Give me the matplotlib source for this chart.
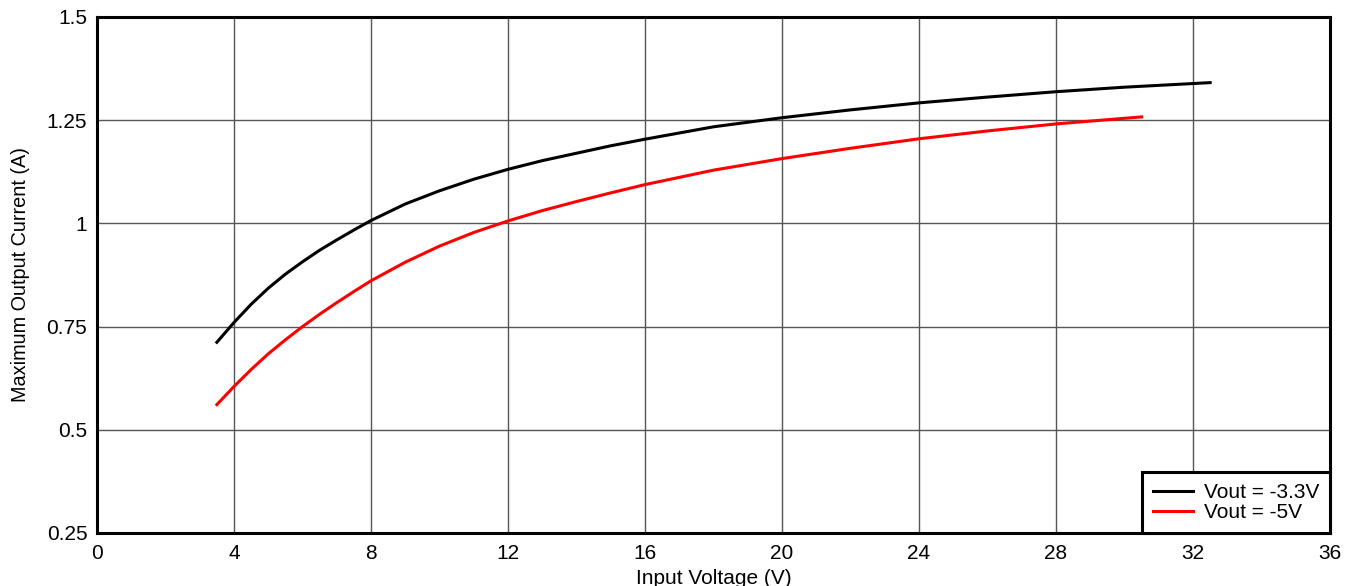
import matplotlib
matplotlib.use("Agg")
import matplotlib.pyplot as plt

# Data
vin_33 = [3.5, 4, 4.5, 5, 5.5, 6, 6.5, 7, 7.5, 8, 9, 10, 11, 12, 13, 14, 15, 16,
          18, 20, 22, 24, 26, 28, 30, 32.5]
iout_33 = [0.712, 0.760, 0.804, 0.843, 0.877, 0.907, 0.935, 0.960, 0.984, 1.007,
           1.047, 1.079, 1.107, 1.131, 1.152, 1.170, 1.188, 1.204,
           1.234, 1.256, 1.275, 1.292, 1.306, 1.319, 1.330, 1.341]
vin_5 = [3.5, 4, 4.5, 5, 5.5, 6, 6.5, 7, 7.5, 8, 9, 10, 11, 12, 13, 14, 15, 16,
         18, 20, 22, 24, 26, 28, 30.5]
iout_5 = [0.561, 0.605, 0.646, 0.684, 0.718, 0.750, 0.780, 0.808, 0.835, 0.861,
          0.906, 0.945, 0.978, 1.006, 1.031, 1.053, 1.074, 1.094,
          1.129, 1.157, 1.182, 1.205, 1.224, 1.241, 1.258]
labels = ["Vout = -3.3V", "Vout = -5V"]
xticks = [0, 4, 8, 12, 16, 20, 24, 28, 32, 36]
yticks = [0.25, 0.5, 0.75, 1.0, 1.25, 1.5]
ytick_labels = ["0.25", "0.5", "0.75", "1", "1.25", "1.5"]

plt.rcParams['font.family'] = ['Liberation Sans', 'DejaVu Sans']

fig = plt.figure(figsize=(13.45, 5.86), dpi=100)
ax = fig.add_axes([97/1345, 53/586, (1330-97)/1345, (533-17)/586])

ax.plot(vin_33, iout_33, color='black', lw=2.2, label=labels[0], zorder=3,
        solid_joinstyle='round')
ax.plot(vin_5, iout_5, color='#ff0000', lw=2.2, label=labels[1], zorder=3,
        solid_joinstyle='round')

ax.set_xlim(0, 36)
ax.set_ylim(0.25, 1.5)
ax.set_xticks(xticks)
ax.set_yticks(yticks)
ax.set_yticklabels(ytick_labels)
ax.tick_params(axis='both', length=0, labelsize=15, colors='black')
ax.tick_params(axis='x', pad=8)
ax.tick_params(axis='y', pad=7)
ax.grid(True, color='#555555', lw=1.0)
ax.set_axisbelow(True)
for s in ax.spines.values():
    s.set_linewidth(2.2)
    s.set_color('black')

ax.set_xlabel("Input Voltage (V)", fontsize=15, labelpad=4)
ax.set_ylabel("Maximum Output Current (A)", fontsize=14.3, labelpad=12)

leg = ax.legend(loc='lower right', fontsize=15, frameon=True, fancybox=False,
                borderaxespad=0, handlelength=1.92, handletextpad=0.53,
                borderpad=0.53, labelspacing=0.05)
leg.get_frame().set_edgecolor('black')
leg.get_frame().set_linewidth(2.2)
leg.get_frame().set_alpha(1)

fig.savefig("out.png", dpi=100)
